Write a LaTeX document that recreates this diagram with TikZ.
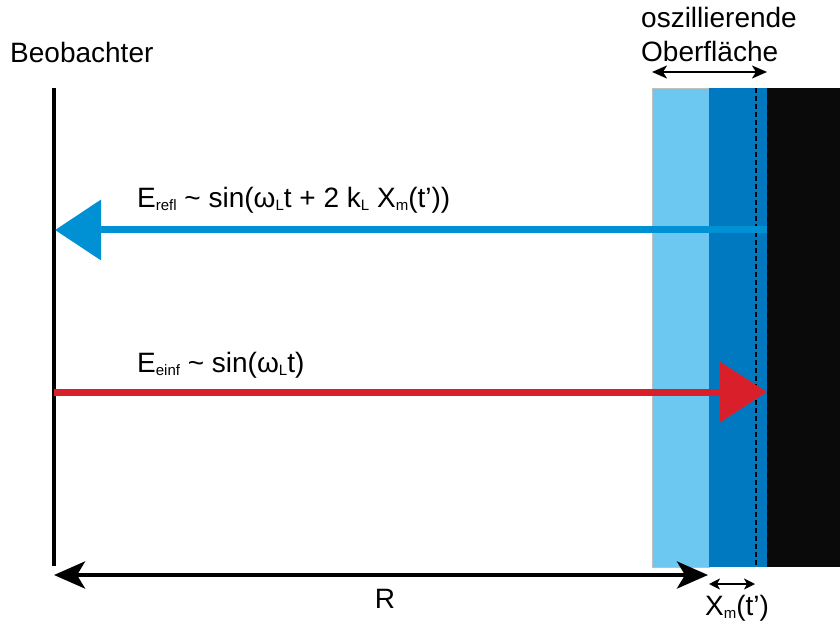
\documentclass[tikz,border=0pt]{standalone}
\usepackage{fontspec}
\setmainfont{Liberation Sans}
\usetikzlibrary{arrows.meta}
\definecolor{lblue}{RGB}{108,200,240}
\definecolor{dblue}{RGB}{0,121,193}
\definecolor{arrblue}{RGB}{0,145,213}
\definecolor{arrred}{RGB}{217,32,42}
\definecolor{nearblack}{RGB}{10,10,10}
\newcommand\lsub[1]{\raisebox{-3pt}{\fontsize{15}{15}\selectfont #1}}
\tikzset{
  lbl/.style={inner sep=0pt, font=\fontsize{28}{33}\selectfont},
  beam/.style={line width=7pt},
  dimarrow/.style={line width=4.5pt, {Stealth[length=31pt,width=27pt,inset=8pt]}-{Stealth[length=31pt,width=27pt,inset=8pt]}},
  smallarrow/.style={line width=1.6pt, {Stealth[length=11pt,width=11pt,inset=3pt]}-{Stealth[length=11pt,width=11pt,inset=3pt]}},
  toparrow/.style={line width=2pt, {Stealth[length=15pt,width=13pt,inset=4pt]}-{Stealth[length=15pt,width=13pt,inset=4pt]}}
}
\begin{document}
\begin{tikzpicture}[x=1pt,y=-1pt]
\useasboundingbox (0,0) rectangle (840,628);
% surface layers
\fill[lblue, draw=gray!50, line width=0.6pt] (652,88) rectangle (709,567);
\fill[dblue] (709,88) rectangle (767,567);
\fill[nearblack] (767,88) rectangle (840,567);
\coordinate (dashTop) at (756,88);
\coordinate (dashBot) at (756,567);
\draw[line width=2.4pt, dash pattern=on 5pt off 3pt] (dashTop) -- (dashBot);
% observer
\coordinate (obsTop) at (54,88);
\coordinate (obsBot) at (54,566);
\draw[line width=3.5pt] (obsTop) -- (obsBot);
\node[lbl, anchor=base west] (beob) at (10,63) {Beobachter};
% top labels
\node[lbl, anchor=base west] (osz) at (641,28) {oszillierende};
\node[lbl, anchor=base west] (ober) at (641,62) {Oberfläche};
\coordinate (topL) at (652,72);
\coordinate (topR) at (767,72);
\draw[toparrow] (topL) -- (topR);
% reflected beam
\coordinate (reflStart) at (767,230);
\coordinate (reflEnd) at (55,230);
\draw[beam, arrblue, -{Triangle[length=46pt,width=59pt]}] (reflStart) -- (reflEnd);
\node[lbl, anchor=base west] (erefl) at (137,208) {E\lsub{refl} \textasciitilde{} sin(ω\lsub{L}t + 2 k\lsub{L} X\lsub{m}(t’))};
% incident beam
\coordinate (einfStart) at (54,392);
\coordinate (einfEnd) at (767,392);
\draw[beam, arrred, -{Triangle[length=47pt,width=59pt]}] (einfStart) -- (einfEnd);
\node[lbl, anchor=base west] (eeinf) at (137,372) {E\lsub{einf} \textasciitilde{} sin(ω\lsub{L}t)};
% distance R
\coordinate (rL) at (54,575);
\coordinate (rR) at (708,575);
\draw[dimarrow] (rL) -- (rR);
\node[lbl, anchor=base] (R) at (385,608) {R};
% Xm
\coordinate (xL) at (709,584);
\coordinate (xR) at (755,584);
\draw[smallarrow] (xL) -- (xR);
\node[lbl, anchor=base west] (xm) at (705,615) {X\lsub{m}(t’)};
\end{tikzpicture}
\end{document}
